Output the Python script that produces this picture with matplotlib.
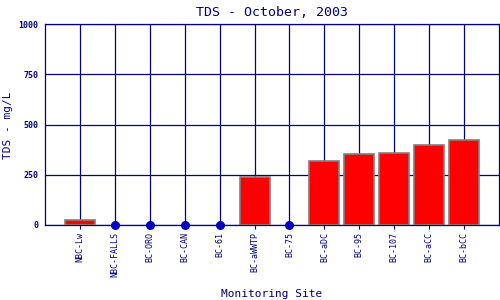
import matplotlib
matplotlib.use("Agg")
import matplotlib.pyplot as plt
import numpy as np

sites = ["NBC-Lw", "NBC-FALLS", "BC-ORO", "BC-CAN", "BC-61", "BC-aWWTP", "BC-75",
         "BC-aDC", "BC-95", "BC-107", "BC-aCC", "BC-bCC"]
tds = [23, 0, 0, 0, 0, 237, 0, 317, 352, 357, 397, 421]
yticks = [0, 250, 500, 750, 1000]

navy = "#000080"
plt.rcParams['font.family'] = ['DejaVu Sans Mono']

fig = plt.figure(figsize=(5, 3), dpi=100)
ax = fig.add_axes([45/500, 75/300, 454/500, 201/300])

x = np.arange(1, len(sites) + 1)
vals = np.array(tds)
nz = vals > 0
ax.bar(x[nz], vals[nz], width=0.86, color="#ff0000", edgecolor="#808080",
       linewidth=1.2, zorder=3)
ax.scatter(x[~nz], vals[~nz], s=30, color="#0000c8", zorder=5, clip_on=False)

ax.set_xlim(0, len(sites) + 1)
ax.set_ylim(0, 1000)
ax.set_xticks(x)
ax.set_xticklabels(sites, rotation=90, fontsize=6, color=navy)
ax.set_yticks(yticks)
ax.set_yticklabels([str(v) for v in yticks], fontsize=6, color=navy,
                   fontweight='bold')
ax.tick_params(axis='y', length=0, pad=5)
ax.tick_params(axis='x', length=3, color=navy, width=0.8, pad=2)
ax.grid(True, color=navy, linewidth=0.9, zorder=0)
ax.set_axisbelow(True)
for s in ax.spines.values():
    s.set_color(navy)
    s.set_linewidth(0.9)

ax.set_title("TDS - October, 2003", fontsize=9.5, color=navy, pad=6)
fig.text(272/500, 1 - 294/300, "Monitoring Site", fontsize=8, color=navy,
         ha='center', va='center')
fig.text(8/500, 1 - 125/300, "TDS - mg/L", fontsize=8, color=navy,
         ha='center', va='center', rotation=90)

fig.savefig("out.png", dpi=100)
